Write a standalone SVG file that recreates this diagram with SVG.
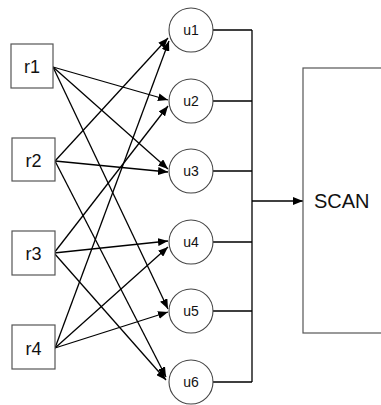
<svg xmlns="http://www.w3.org/2000/svg" width="381" height="405" viewBox="0 0 381 405">
<defs>
<marker id="ah" viewBox="0 0 10 8" refX="10" refY="4" markerWidth="10" markerHeight="8" markerUnits="userSpaceOnUse" orient="auto">
<path d="M0,0 L10,4 L0,8 Z" fill="#000"/>
</marker>
<style>
.box{fill:#fff;stroke:#555;stroke-width:1.2}
.c{fill:#fff;stroke:#444;stroke-width:1.1}
.t{font-family:"Liberation Sans",Arial,sans-serif;fill:#111;text-anchor:middle}
.rt{font-size:18px}
.ut{font-size:14px}
.e{stroke:#000;stroke-width:1.3;fill:none}
.a{marker-end:url(#ah)}
</style>
</defs>
<rect width="381" height="405" fill="#fff"/>
<g id="connectors">
<line class="e a" x1="53" y1="67" x2="168" y2="100"/>
<line class="e a" x1="53" y1="67" x2="168" y2="169"/>
<line class="e a" x1="53" y1="67" x2="168" y2="309"/>
<line class="e a" x1="55" y1="161" x2="168" y2="38"/>
<line class="e a" x1="55" y1="161" x2="168" y2="172"/>
<line class="e a" x1="55" y1="161" x2="166" y2="377"/>
<line class="e a" x1="54" y1="253" x2="168" y2="106"/>
<line class="e a" x1="54" y1="253" x2="168" y2="241"/>
<line class="e a" x1="54" y1="253" x2="166" y2="380"/>
<line class="e a" x1="55" y1="348" x2="169" y2="41"/>
<line class="e a" x1="55" y1="348" x2="168" y2="247"/>
<line class="e a" x1="55" y1="348" x2="168" y2="312"/>
<path class="e" d="M213,30 H252 M213,101 H252 M213,171 H252 M213,242 H252 M213,311 H252 M213,382 H252 M252,30 V382"/>
<line class="e a" x1="252" y1="201" x2="303" y2="201"/>
</g>
<g id="r1"><rect class="box" x="11" y="44" width="42" height="44"/><text class="t rt" x="32" y="73">r1</text></g>
<g id="r2"><rect class="box" x="12" y="138" width="43" height="43"/><text class="t rt" x="33.5" y="167">r2</text></g>
<g id="r3"><rect class="box" x="12" y="231" width="43" height="44"/><text class="t rt" x="33.5" y="260">r3</text></g>
<g id="r4"><rect class="box" x="12" y="325" width="43" height="44"/><text class="t rt" x="33.5" y="355">r4</text></g>
<g id="u1"><circle class="c" cx="191" cy="30" r="22"/><text class="t ut" x="191" y="35">u1</text></g>
<g id="u2"><circle class="c" cx="191" cy="101" r="22"/><text class="t ut" x="191" y="106">u2</text></g>
<g id="u3"><circle class="c" cx="191" cy="171" r="22"/><text class="t ut" x="191" y="176">u3</text></g>
<g id="u4"><circle class="c" cx="191" cy="242" r="22"/><text class="t ut" x="191" y="247">u4</text></g>
<g id="u5"><circle class="c" cx="191" cy="311" r="22"/><text class="t ut" x="191" y="316">u5</text></g>
<g id="u6"><circle class="c" cx="191" cy="382" r="22"/><text class="t ut" x="191" y="387">u6</text></g>
<g id="scan"><rect class="box" x="303" y="68" width="100" height="265"/><text class="t" style="font-size:20px;text-anchor:start" x="314" y="208">SCAN</text></g>
</svg>
